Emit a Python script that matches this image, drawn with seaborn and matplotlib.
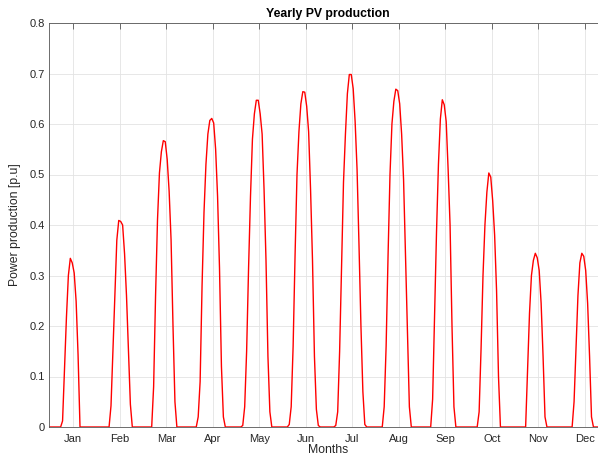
import numpy as np
import pandas as pd
import matplotlib
matplotlib.use("Agg")
import matplotlib.pyplot as plt
import seaborn as sns

# ---- data (one representative day per month, hourly values in p.u.) ----
months = ["Jan", "Feb", "Mar", "Apr", "May", "Jun",
          "Jul", "Aug", "Sep", "Oct", "Nov", "Dec"]

jan = [0, 0, 0, 0, 0, 0, 0, 0.012, 0.116, 0.217, 0.300, 0.334,
       0.325, 0.305, 0.249, 0.143, 0, 0, 0, 0, 0, 0, 0, 0]
feb = [0, 0, 0, 0, 0, 0, 0, 0, 0.042, 0.150, 0.255, 0.370,
       0.409, 0.407, 0.400, 0.343, 0.260, 0.150, 0.045, 0, 0, 0, 0, 0]
mar = [0, 0, 0, 0, 0, 0, 0.080, 0.260, 0.410, 0.503, 0.545, 0.567,
       0.565, 0.530, 0.467, 0.371, 0.200, 0.050, 0, 0, 0, 0, 0, 0]
apr = [0, 0, 0, 0, 0, 0.020, 0.090, 0.280, 0.425, 0.520, 0.580, 0.607,
       0.611, 0.602, 0.550, 0.457, 0.315, 0.120, 0.020, 0, 0, 0, 0, 0]
may = [0, 0, 0, 0, 0.003, 0.040, 0.150, 0.314, 0.457, 0.570, 0.620, 0.647,
       0.647, 0.620, 0.580, 0.470, 0.330, 0.140, 0.030, 0, 0, 0, 0, 0]
jun = [0, 0, 0, 0, 0.005, 0.040, 0.160, 0.340, 0.500, 0.585, 0.640, 0.664,
       0.663, 0.635, 0.585, 0.470, 0.330, 0.140, 0.035, 0.003, 0, 0, 0, 0]
jul = [0, 0, 0, 0, 0.003, 0.030, 0.150, 0.320, 0.485, 0.580, 0.660, 0.698,
       0.698, 0.670, 0.605, 0.510, 0.360, 0.200, 0.070, 0.005, 0, 0, 0, 0]
aug = [0, 0, 0, 0, 0, 0.040, 0.160, 0.340, 0.500, 0.600, 0.645, 0.669,
       0.666, 0.640, 0.580, 0.490, 0.340, 0.185, 0.040, 0, 0, 0, 0, 0]
sep = [0, 0, 0, 0, 0, 0, 0.055, 0.220, 0.385, 0.520, 0.610, 0.648,
       0.638, 0.605, 0.510, 0.400, 0.200, 0.040, 0, 0, 0, 0, 0, 0]
oct_ = [0, 0, 0, 0, 0, 0, 0.030, 0.155, 0.300, 0.400, 0.465, 0.503,
        0.495, 0.448, 0.380, 0.270, 0.100, 0, 0, 0, 0, 0, 0, 0]
nov = [0, 0, 0, 0, 0, 0, 0, 0.110, 0.225, 0.300, 0.330, 0.344,
       0.335, 0.310, 0.245, 0.140, 0.020, 0, 0, 0, 0, 0, 0, 0]
dec = [0, 0, 0, 0, 0, 0, 0, 0.050, 0.155, 0.260, 0.325, 0.344,
       0.338, 0.310, 0.245, 0.140, 0.020, 0, 0, 0, 0, 0, 0, 0]

yticks = [0, 0.1, 0.2, 0.3, 0.4, 0.5, 0.6, 0.7, 0.8]
ytick_labels = ["0", "0.1", "0.2", "0.3", "0.4", "0.5", "0.6", "0.7", "0.8"]

profiles = [jan, feb, mar, apr, may, jun, jul, aug, sep, oct_, nov, dec]
hours_per_day = len(jan)
power = np.concatenate(profiles)
df = pd.DataFrame({"hour": np.arange(len(power)), "power": power})

# ---- style ----
sns.set_style("white")
plt.rcParams["font.family"] = ["Liberation Sans", "DejaVu Sans"]
text_col = "#262626"
spine_col = "#555555"

W, H = 598, 457
fig = plt.figure(figsize=(W / 100, H / 100), dpi=100)
# axes extends a little past the right edge of the figure (as in reference)
ax = fig.add_axes([49 / W, 30 / H, 558 / W, 404 / H])

sns.lineplot(data=df, x="hour", y="power", color="#ff0000", lw=1.0,
             ax=ax, legend=False)

ax.set_xlim(0, len(profiles) * hours_per_day)
ax.set_ylim(0, 0.8)
ax.set_xticks(np.arange(len(months)) * hours_per_day + 12.5)
ax.set_xticklabels(months)
ax.set_yticks(yticks)
ax.set_yticklabels(ytick_labels)

ax.grid(True, color="#e3e3e3", lw=0.6)
ax.set_axisbelow(True)
for s in ax.spines.values():
    s.set_color(spine_col)
    s.set_linewidth(0.6)
    s.set_visible(True)

ax.tick_params(direction="in", top=True, right=True, length=4, width=0.6,
               color=spine_col, labelcolor=text_col, labelsize=8, pad=3)
ax.tick_params(axis="x", pad=5)

ax.set_title("Yearly PV production", fontsize=8.8, fontweight="bold",
             color="black", pad=4)
ax.set_xlabel("Months", fontsize=8.8, color=text_col, labelpad=0)
ax.set_ylabel("Power production [p.u]", fontsize=8.8, color=text_col,
              labelpad=6)

fig.savefig("out.png", dpi=100)
